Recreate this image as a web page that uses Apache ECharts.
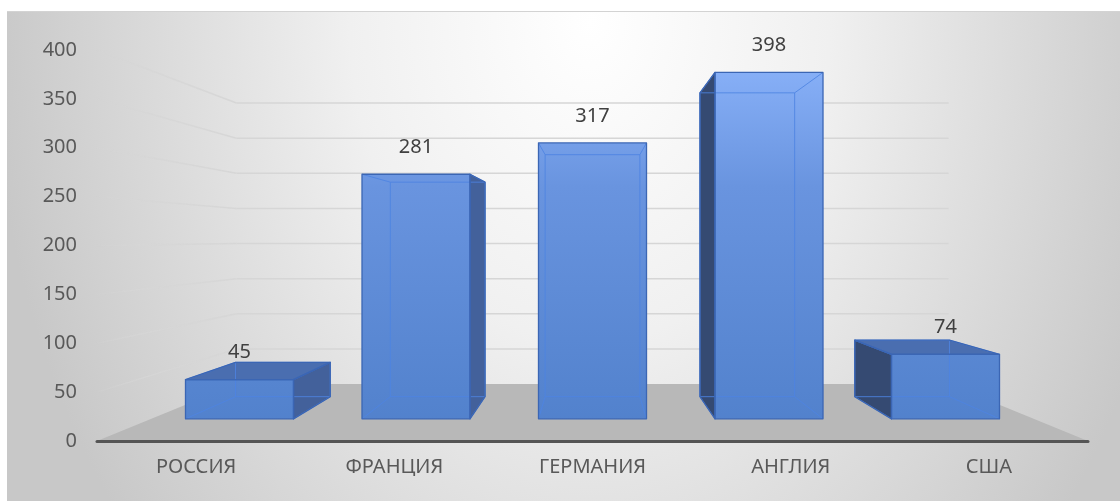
<!DOCTYPE html>
<html>
<head>
<meta charset="utf-8">
<title>Страны</title>
<script src="https://cdn.jsdelivr.net/npm/echarts@6.0.0/dist/echarts.min.js"></script>
<style>
  html, body { margin: 0; padding: 0; background: #ffffff; }
  #wrap { position: relative; width: 1120px; height: 501px; overflow: hidden; }
  #backdrop {
    position: absolute; left: 7px; top: 11px; right: 0; bottom: 0;
    border-top: 1px solid #d3d3d3;
    background: radial-gradient(ellipse 600px 800px at 583px 10px, #ffffff 0%, #f0f0f0 40%, #c8c8c8 100%);
  }
  #chart { position: absolute; left: 0; top: 0; width: 1120px; height: 501px; }
</style>
</head>
<body>
<div id="wrap">
  <div id="backdrop"></div>
  <div id="chart"></div>
</div>
<script>
// Chart data
const categories = ['РОССИЯ', 'ФРАНЦИЯ', 'ГЕРМАНИЯ', 'АНГЛИЯ', 'США'];
const values = [45, 281, 317, 398, 74];
const valueTicks = [0, 50, 100, 150, 200, 250, 300, 350, 400];

// Perspective set-up: everything is projected toward a vanishing point
// centred over the plot, at the height of HORIZON_VALUE on the value axis.
const HORIZON_VALUE = 207;
const DEPTH_WALL = 0.7187;      // back wall / far edge of the floor
const DEPTH_BAR_FRONT = 0.8905; // front faces of the columns
const DEPTH_BAR_BACK = 0.781;   // back faces of the columns
const BAR_FRACTION = 0.612;     // column width as a share of the category band

const FONT = '"Noto Sans", "DejaVu Sans", sans-serif';

function vanishingPoint(params, api) {
  const cs = params.coordSys;
  return [cs.x + cs.width / 2, api.coord([0, HORIZON_VALUE])[1]];
}
function project(vp, x, y, s) {
  return [vp[0] + s * (x - vp[0]), vp[1] + s * (y - vp[1])];
}

// Gridlines: a receding segment on the left wall plus a flat one on the back wall
function renderGridline(params, api) {
  const cs = params.coordSys;
  const vp = vanishingPoint(params, api);
  const y = api.coord([0, api.value(1)])[1];
  const a = [cs.x, y];
  const b = project(vp, cs.x, y, DEPTH_WALL);
  const c = project(vp, cs.x + cs.width, y, DEPTH_WALL);
  return {
    type: 'group',
    children: [
      {
        type: 'line',
        shape: { x1: a[0], y1: a[1], x2: b[0], y2: b[1] },
        style: {
          stroke: {
            type: 'linear', x: a[0], y: 0, x2: b[0], y2: 0, global: true,
            colorStops: [
              { offset: 0, color: 'rgba(214,214,214,0.15)' },
              { offset: 0.35, color: 'rgba(214,214,214,0.75)' },
              { offset: 1, color: 'rgba(214,214,214,1)' }
            ]
          },
          lineWidth: 1.5
        }
      },
      {
        type: 'line',
        shape: { x1: b[0], y1: b[1], x2: c[0], y2: c[1] },
        style: { stroke: '#d6d6d6', lineWidth: 1.5 }
      }
    ]
  };
}

// Floor: trapezoid from the axis line back to the foot of the back wall
function renderFloor(params, api) {
  const cs = params.coordSys;
  const vp = vanishingPoint(params, api);
  const y0 = api.coord([0, 0])[1];
  const left = cs.x, right = cs.x + cs.width;
  return {
    type: 'polygon',
    shape: {
      points: [
        [left, y0],
        project(vp, left, y0, DEPTH_WALL),
        project(vp, right, y0, DEPTH_WALL),
        [right, y0]
      ]
    },
    style: { fill: '#b8b8b8' }
  };
}

// Columns drawn as perspective boxes with see-through inner edges
function renderColumn(params, api) {
  const cs = params.coordSys;
  const vp = vanishingPoint(params, api);
  const idx = api.value(0);
  const val = api.value(1);
  const base = api.coord([idx, 0]);
  const top = api.coord([idx, val]);
  const half = api.size([1, 0])[0] * BAR_FRACTION / 2;
  const x0 = base[0] - half, x1 = base[0] + half;
  const yb = base[1], yt = top[1];
  const corners = [[x0, yt], [x1, yt], [x1, yb], [x0, yb]];
  const F = corners.map(p => project(vp, p[0], p[1], DEPTH_BAR_FRONT));
  const B = corners.map(p => project(vp, p[0], p[1], DEPTH_BAR_BACK));

  const frontFill = {
    type: 'linear', x: 0, y: cs.y, x2: 0, y2: cs.y + cs.height, global: true,
    colorStops: [
      { offset: 0, color: '#8cb4fb' },
      { offset: 0.35, color: '#6994df' },
      { offset: 1, color: '#5080cb' }
    ]
  };

  const faces = [];
  if (x1 < vp[0]) faces.push({ pts: [F[1], B[1], B[2], F[2]], fill: '#43619b' });
  if (x0 > vp[0]) faces.push({ pts: [F[0], B[0], B[3], F[3]], fill: '#354a72' });
  if (yt > vp[1]) faces.push({ pts: [B[0], B[1], F[1], F[0]], fill: '#4a6eb0' });
  faces.push({ pts: F, fill: frontFill });

  const children = [];
  faces.forEach(f => children.push({
    type: 'polygon', shape: { points: f.pts }, style: { fill: f.fill }
  }));

  // all twelve box edges, faint, so the hidden ones show through
  const edges = [];
  for (let k = 0; k < 4; k++) {
    edges.push([B[k], B[(k + 1) % 4]]);
    edges.push([F[k], B[k]]);
  }
  edges.forEach(e => children.push({
    type: 'line',
    shape: { x1: e[0][0], y1: e[0][1], x2: e[1][0], y2: e[1][1] },
    style: { stroke: 'rgba(78,132,226,0.85)', lineWidth: 1 }
  }));

  // outlines of the visible faces
  faces.forEach(f => children.push({
    type: 'polygon', shape: { points: f.pts },
    style: { fill: 'none', stroke: '#3b66b4', lineWidth: 1.3, lineJoin: 'round' }
  }));

  // value label above the front face
  children.push({
    type: 'text',
    style: {
      text: String(val),
      x: (F[0][0] + F[1][0]) / 2,
      y: F[0][1] - 27,
      align: 'center',
      verticalAlign: 'middle',
      fill: '#404040',
      fontSize: 20,
      fontFamily: FONT
    }
  });

  return { type: 'group', children: children };
}

const chart = echarts.init(document.getElementById('chart'), null, { renderer: 'canvas' });

chart.setOption({
  backgroundColor: 'transparent',
  animation: false,
  textStyle: { fontFamily: FONT },
  grid: { left: 97, right: 32, top: 50, bottom: 60, containLabel: false },
  xAxis: {
    type: 'category',
    data: categories,
    boundaryGap: true,
    z: 10,
    axisLine: { show: true, lineStyle: { color: '#555555', width: 3 } },
    axisTick: { show: false },
    splitLine: { show: false },
    axisLabel: { color: '#595959', fontSize: 20, margin: 16, fontFamily: FONT }
  },
  yAxis: {
    type: 'value',
    min: 0,
    max: 400,
    interval: 50,
    axisLine: { show: false },
    axisTick: { show: false },
    splitLine: { show: false },
    axisLabel: {
      color: '#595959', fontSize: 20, margin: 20, fontFamily: FONT,
      padding: [0, 0, 6, 0],
      formatter: v => (valueTicks.indexOf(v) >= 0 ? String(v) : '')
    }
  },
  series: [
    {
      type: 'custom',
      name: 'grid',
      z: 1,
      clip: false,
      silent: true,
      renderItem: renderGridline,
      data: valueTicks.filter(v => v > 0).map(v => [0, v])
    },
    {
      type: 'custom',
      name: 'floor',
      z: 2,
      clip: false,
      silent: true,
      renderItem: renderFloor,
      data: [[0, 0]]
    },
    {
      type: 'custom',
      name: 'columns',
      z: 3,
      clip: false,
      renderItem: renderColumn,
      encode: { x: 0, y: 1 },
      data: values.map((v, i) => [i, v])
    }
  ]
});
</script>
</body>
</html>
